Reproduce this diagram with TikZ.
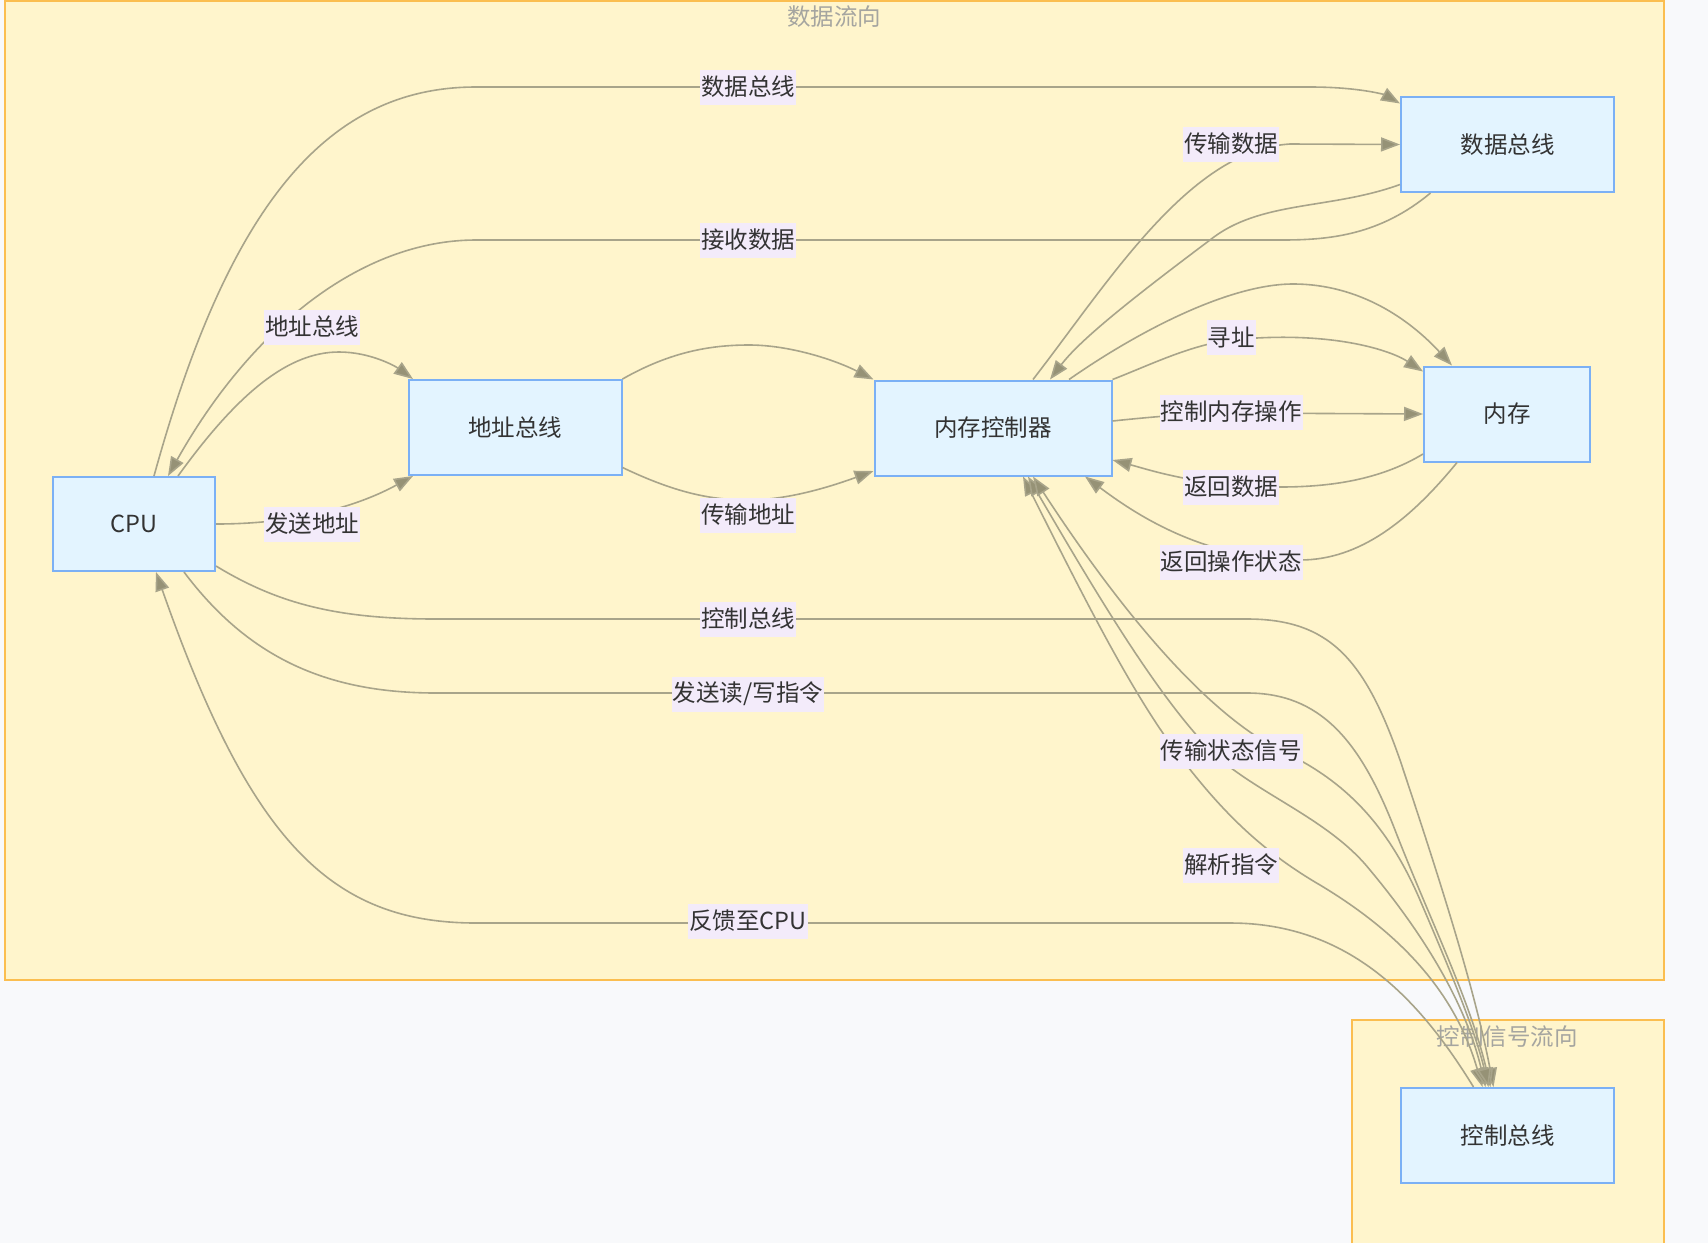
\documentclass[tikz,border=0pt]{standalone}
\usepackage{fontspec}
\setmainfont{Noto Sans CJK SC}
\usepackage{tikz}
\usetikzlibrary{arrows.meta}
\definecolor{PageBg}{RGB}{248,249,251}
\definecolor{ClusterFill}{RGB}{255,245,204}
\definecolor{ClusterLine}{RGB}{251,190,80}
\definecolor{BoxFill}{RGB}{227,244,255}
\definecolor{BoxLine}{RGB}{123,176,245}
\definecolor{EdgeGray}{RGB}{168,164,138}
\definecolor{ArrowFill}{RGB}{150,146,118}
\definecolor{LabelBg}{RGB}{243,235,250}
\definecolor{TextDark}{RGB}{51,51,51}
\definecolor{TitleGray}{RGB}{165,165,160}

\begin{document}
\begin{tikzpicture}[x=1pt,y=-1pt,
		every node/.style={font=\fontsize{23.5}{28}\selectfont,text=TextDark},
		box/.style={draw=BoxLine,fill=BoxFill,line width=2pt,inner sep=0pt},
		elabel/.style={fill=LabelBg,inner xsep=1pt,inner ysep=0pt,minimum height=35pt},
		flow/.style={EdgeGray,line width=1.6pt,-{Triangle[length=19pt,width=14pt,fill=ArrowFill]}},
		twoway/.style={EdgeGray,line width=1.6pt,{Triangle[length=19pt,width=14pt,fill=ArrowFill]}-{Triangle[length=19pt,width=14pt,fill=ArrowFill]}},
		grouptitle/.style={text=TitleGray}]
		\fill[PageBg] (0,0) rectangle (1708,1243);
		\useasboundingbox (0,0) rectangle (1708,1243);
		
		% 两个分组
		\draw[ClusterLine,fill=ClusterFill,line width=2pt] (5,1) rectangle (1664,980);
		\fill[ClusterFill] (1352,1020) rectangle (1664,1243);
		\draw[ClusterLine,line width=2pt] (1352,1243)--(1352,1020)--(1664,1020)--(1664,1243);
		\node[grouptitle] (t-data) at (834,17) {数据流向};
		\node[grouptitle] (t-ctrl) at (1507,1037) {控制信号流向};
		
		% 部件
		\node[box,minimum width=162pt,minimum height=94pt] (cpu) at (134,524) {CPU};
		\node[box,minimum width=213pt,minimum height=95pt] (abus) at (515,427.5) {地址总线};
		\node[box,minimum width=237pt,minimum height=95pt] (mc) at (993,428) {内存控制器};
		\node[box,minimum width=213pt,minimum height=95pt] (dbus) at (1507.5,144.5) {数据总线};
		\node[box,minimum width=166pt,minimum height=95pt] (mem) at (1507,414) {内存};
		\node[box,minimum width=213pt,minimum height=95pt] (cbus) at (1507.5,1135.5) {控制总线};
		
		% CPU 与数据总线
		\draw[flow] ([xshift=20pt]cpu.north) .. controls (230,200) and (330,87) .. (476,87) -- (1310,87) .. controls (1360,87) and (1385,95) .. ([yshift=41pt]dbus.west);
		\draw[flow] ([xshift=-77pt]dbus.south) .. controls (1380,235) and (1330,240) .. (1282,240) -- (476,240) .. controls (360,240) and (250,330) .. ([xshift=34pt]cpu.north);
		
		% CPU 与地址总线
		\draw[flow] ([xshift=44pt]cpu.north) .. controls (240,390) and (290,352) .. (339,352) .. controls (370,352) and (395,366) .. ([xshift=-102pt]abus.north);
		\draw[flow] (cpu.east) .. controls (300,524) and (360,505) .. ([xshift=-102pt]abus.south);
		
		% 地址总线到内存控制器
		\draw[flow] (abus.north east) .. controls (670,352) and (710,345) .. (749,345) .. controls (790,345) and (835,360) .. (mc.north west);
		\draw[flow] ([yshift=-40pt]abus.east) .. controls (680,495) and (715,500) .. (749,500) .. controls (790,500) and (835,485) .. ([yshift=-43pt]mc.west);
		
		% 内存控制器与数据总线
		\draw[flow] ([xshift=40pt]mc.north) .. controls (1110,280) and (1190,150) .. (1290,144) -- (dbus.west);
		\draw[flow] ([yshift=-40pt]dbus.west) .. controls (1330,210) and (1260,200) .. (1210,240) .. controls (1130,300) and (1080,340) .. ([xshift=57pt]mc.north);
		
		% 内存控制器与内存
		\draw[flow] ([xshift=76pt]mc.north) .. controls (1140,330) and (1230,284) .. (1293,284) .. controls (1360,284) and (1410,320) .. ([xshift=-55pt]mem.north);
		\draw[flow] (mc.north east) .. controls (1150,365) and (1190,345) .. (1231,340) .. controls (1330,330) and (1390,350) .. ([yshift=-6pt]mem.north west);
		\draw[flow] ([yshift=7pt]mc.east) .. controls (1160,416) and (1200,413) .. (1231,413) -- (mem.west);
		\draw[flow] ([yshift=-40pt]mem.west) .. controls (1380,480) and (1330,487) .. (1280,487) .. controls (1200,487) and (1150,470) .. ([yshift=-32pt]mc.east);
		\draw[flow] ([xshift=-50pt]mem.south) .. controls (1410,520) and (1360,560) .. (1300,560) .. controls (1200,560) and (1130,510) .. ([xshift=92pt]mc.south);
		
		% CPU 与控制总线
		\draw[flow] ([yshift=-42pt]cpu.east) .. controls (280,605) and (340,619) .. (436,619) -- (1247,619) .. controls (1330,619) and (1365,660) .. (1400,760) .. controls (1440,880) and (1475,990) .. ([xshift=-14pt]cbus.north);
		\draw[flow] ([xshift=50pt]cpu.south) .. controls (250,660) and (330,693) .. (436,693) -- (1247,693) .. controls (1320,693) and (1360,740) .. (1395,830) .. controls (1430,920) and (1470,1000) .. ([xshift=-17pt]cbus.north);
		\draw[flow] ([xshift=-34pt]cbus.north) .. controls (1420,1000) and (1350,923) .. (1230,923) -- (476,923) .. controls (330,923) and (250,840) .. ([xshift=22pt]cpu.south);
		
		% 内存控制器与控制总线，两端箭头
		\draw[twoway] ([xshift=30pt]mc.south) .. controls (1080,590) and (1130,690) .. (1175,750) .. controls (1220,810) and (1260,850) .. (1320,885) .. controls (1420,945) and (1460,1010) .. ([xshift=-25pt]cbus.north);
		\draw[twoway] ([xshift=35pt]mc.south) .. controls (1100,600) and (1160,700) .. (1215,755) .. controls (1260,795) and (1330,820) .. (1370,870) .. controls (1420,930) and (1465,1000) .. ([xshift=-22pt]cbus.north);
		\draw[twoway] ([xshift=40pt]mc.south) .. controls (1120,610) and (1210,720) .. (1290,755) .. controls (1350,785) and (1390,830) .. (1420,900) .. controls (1450,970) and (1475,1030) .. ([xshift=-19pt]cbus.north);
		
		% 连线文字
		\node[elabel] (l-data) at (748,87) {数据总线};
		\node[elabel] (l-recv) at (748,240) {接收数据};
		\node[elabel] (l-addr) at (312,327) {地址总线};
		\node[elabel] (l-send) at (312,524) {发送地址};
		\node[elabel] (l-taddr) at (748,515) {传输地址};
		\node[elabel] (l-tdata) at (1231,144) {传输数据};
		\node[elabel] (l-seek) at (1231,337) {寻址};
		\node[elabel] (l-ctrlop) at (1231,412) {控制内存操作};
		\node[elabel] (l-retdata) at (1231,487) {返回数据};
		\node[elabel] (l-retstat) at (1231,562) {返回操作状态};
		\node[elabel] (l-ctrl) at (748,619) {控制总线};
		\node[elabel] (l-rw) at (748,694) {发送读/写指令};
		\node[elabel] (l-status) at (1231,751) {传输状态信号};
		\node[elabel] (l-parse) at (1231,865) {解析指令};
		\node[elabel] (l-fb) at (748,921) {反馈至CPU};
	\end{tikzpicture}
\end{document}
